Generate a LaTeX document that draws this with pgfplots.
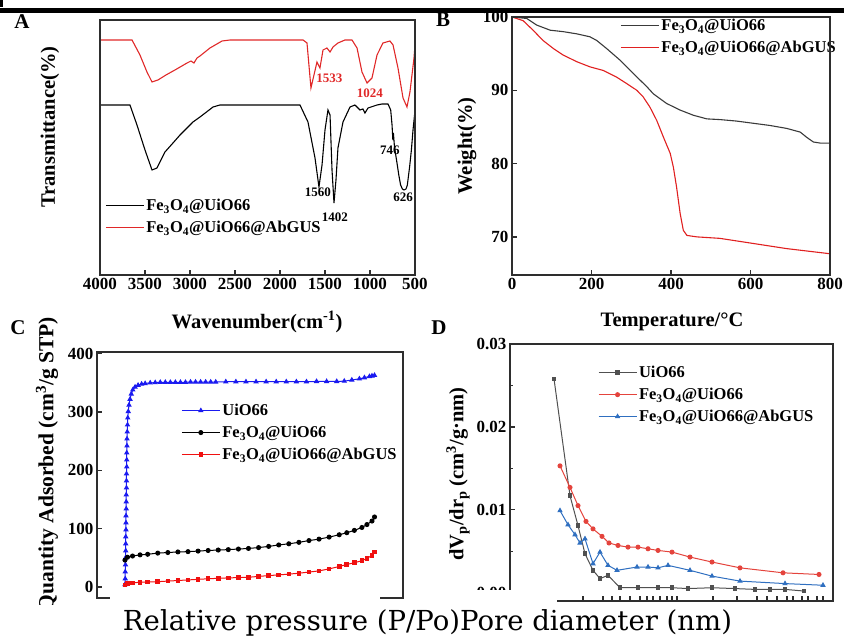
\documentclass[border=0pt]{standalone}
\usepackage{fontspec}
\setmainfont{Liberation Serif}
\newfontfamily\capfont{DejaVu Serif}
\usepackage{pgfplots}
\pgfplotsset{compat=1.18}

\definecolor{irred}{HTML}{E02828}
\definecolor{tgagray}{HTML}{3A3A3A}
\definecolor{tgared}{HTML}{E02020}
\definecolor{betblue}{HTML}{1A1AF0}
\definecolor{betred}{HTML}{F01010}
\definecolor{psdgray}{HTML}{505050}
\definecolor{psdred}{HTML}{E4433C}
\definecolor{psdblue}{HTML}{2F6FC0}
\definecolor{boxgray}{HTML}{2E2E2E}

\newcommand{\fe}{Fe\textsubscript{3}O\textsubscript{4}}
\newcommand{\ticfont}{\bfseries\fontsize{17}{17}\selectfont}
\newcommand{\labfont}{\bfseries\fontsize{20.5}{21}\selectfont}
\newcommand{\legfont}{\bfseries\fontsize{16.5}{17}\selectfont}

\pgfplotsset{
  panel/.style={
    scale only axis, anchor=south west,
    axis line style={line width=1.6pt, boxgray},
    major tick style={line width=1.3pt, boxgray},
    minor tick style={line width=1.1pt, boxgray},
    major tick length=5pt, minor tick length=3pt,
    tick align=inside, xtick pos=bottom, ytick pos=left,
    tick label style={font=\ticfont},
    /pgf/number format/assume math mode=true,
    /pgf/number format/1000 sep={},
    legend style={draw=none, fill=none, font=\legfont, inner sep=0pt,
      row sep=5pt, cells={anchor=west}},
    legend cell align=left,
  },
  lineleg/.style={legend image code/.code={\draw[##1] (0pt,0pt) -- (38pt,0pt);}},
  markleg/.style={legend image code/.code={%
    \draw[##1, mark repeat=2, mark phase=2] plot coordinates {(0pt,0pt) (19pt,0pt) (38pt,0pt)};}},
}

\begin{document}
\begin{tikzpicture}
\path[use as bounding box] (0pt,0pt) rectangle (844pt,641pt);
% bar along the top
\fill[black] (0pt,628pt) rectangle (844pt,633pt);
\fill[black] (0pt,634pt) rectangle (3pt,641pt);

%% ---------------- A: FTIR ----------------
\begin{axis}[panel, lineleg, name=ftir, at={(100pt,366pt)}, width=315pt, height=255pt,
  xmin=500, xmax=4000, x dir=reverse, xtick={500,1000,...,4000},
  ymin=0, ymax=255, ytick=\empty,
  legend style={at={(0.016,0.306)}, anchor=north west}]
\addplot[black, line width=1.1pt] coordinates {
(4000,170) (3667,170) (3589,150) (3500,125) (3422,105) (3367,107) (3278,123)
(3189,132) (3111,140) (3033,147) (2967,153) (2889,158) (2744,168) (2667,170)
(1778,170) (1689,153) (1611,117) (1567,88) (1533,110) (1500,145) (1467,165)
(1444,160) (1422,105) (1400,72) (1378,95) (1356,127) (1300,153) (1222,168)
(1167,170) (1111,165) (1078,166) (1056,162) (1022,167) (922,170) (867,171)
(800,171) (770,165) (755,150) (746,135) (740,142) (728,128) (700,112)
(680,100) (660,90) (640,86) (622,85) (600,86) (585,90) (560,108) (540,125)
(522,145) (505,160) (500,163)};
\addlegendentry{\fe@UiO66}
\addplot[irred, line width=1.1pt] coordinates {
(4000,235) (3644,235) (3556,220) (3478,203) (3422,193) (3356,195) (3267,200)
(3167,205) (3033,212) (2989,214) (2956,212) (2922,217) (2889,219) (2778,227)
(2644,234) (2556,235) (1744,235) (1700,232) (1656,187) (1589,213) (1556,207)
(1522,225) (1478,227) (1444,223) (1411,228) (1356,232) (1278,235) (1200,235)
(1144,227) (1089,203) (1033,192) (978,197) (922,220) (856,232) (778,234)
(744,230) (689,207) (633,177) (589,168) (556,183) (511,217) (500,230)};
\addlegendentry{\fe@UiO66@AbGUS}
\node[font=\bfseries\fontsize{13}{13}\selectfont] at (axis cs:1578,83) {1560};
\node[font=\bfseries\fontsize{13}{13}\selectfont] at (axis cs:1389,58) {1402};
\node[font=\bfseries\fontsize{13}{13}\selectfont] at (axis cs:780,125) {746};
\node[font=\bfseries\fontsize{13}{13}\selectfont] at (axis cs:633,78) {626};
\node[font=\bfseries\fontsize{13}{13}\selectfont, irred] at (axis cs:1450,197) {1533};
\node[font=\bfseries\fontsize{13}{13}\selectfont, irred] at (axis cs:1000,182) {1024};
\end{axis}

%% ---------------- B: TGA ----------------
\begin{axis}[panel, lineleg, name=tga, at={(512pt,366pt)}, width=318pt, height=258pt,
  xmin=0, xmax=800, xtick={0,200,...,800},
  ymin=64.8, ymax=100, ytick={70,80,90,100},
  legend style={at={(0.34,1.0)}, anchor=north west}]
\addplot[tgagray, line width=1.1pt] coordinates {
(0,100) (37,99.8) (62,98.9) (96,98.2) (129,98) (163,97.7) (196,97.3) (213,96.8)
(238,95.7) (272,94.1) (305,92.3) (339,90.5) (356,89.5) (389,88.2) (423,87.3)
(456,86.6) (490,86.1) (524,86) (565,85.8) (607,85.5) (649,85.2) (691,84.8)
(725,84.3) (741,83.6) (758,82.95) (775,82.8) (800,82.8)};
\addlegendentry{\fe@UiO66}
\addplot[tgared, line width=1.1pt] coordinates {
(0,100) (28,99.5) (53,98.2) (78,96.8) (104,95.7) (129,94.8) (163,93.9) (196,93.2)
(230,92.7) (263,91.8) (289,90.9) (314,90) (330,89.1) (347,87.7) (364,85.9)
(381,83.6) (398,81.4) (406,79.5) (414,76.8) (423,73.2) (431,70.9) (440,70.2)
(465,70) (523,69.8) (607,69.1) (691,68.4) (800,67.7)};
\addlegendentry{\fe@UiO66@AbGUS}
\end{axis}

%% ---------------- C: N2 isotherms ----------------
\begin{axis}[panel, markleg, name=bet, at={(97pt,43pt)}, width=306pt, height=246pt,
  xmin=-0.111, xmax=1.103, xtick=\empty,
  ymin=-19, ymax=403, ytick={0,100,...,400},
  legend style={at={(0.275,0.797)}, anchor=north west}]
\addplot[betblue, line width=1pt, mark=triangle*, mark size=2.2pt] coordinates {
(0.000,4) (0.001,14) (0.001,26) (0.002,38) (0.002,50) (0.003,62) (0.003,74)
(0.003,86) (0.004,98) (0.004,110) (0.004,122) (0.005,134) (0.005,146)
(0.005,158) (0.006,170) (0.006,182) (0.006,194) (0.007,206) (0.007,218)
(0.007,230) (0.008,242) (0.008,254) (0.009,266) (0.010,278) (0.011,290)
(0.013,301) (0.016,312) (0.020,322) (0.025,331) (0.031,338) (0.040,343)
(0.052,346) (0.066,348) (0.08,349) (0.10,350) (0.12,350.5) (0.14,351)
(0.16,351) (0.18,351) (0.20,351) (0.22,351) (0.24,351) (0.26,351.5)
(0.28,351.5) (0.30,351.5) (0.32,351.5) (0.34,351.5) (0.36,351.5) (0.40,352)
(0.44,352) (0.48,352) (0.52,352) (0.56,352) (0.60,352) (0.64,352) (0.68,352)
(0.72,352) (0.76,352.5) (0.80,352.5) (0.84,352.5) (0.87,353) (0.90,355)
(0.93,357) (0.95,359) (0.97,361) (0.98,362) (0.99,363)};
\addlegendentry{UiO66}
\addplot[black, line width=1pt, mark=*, mark size=2pt] coordinates {
(0.000,46) (0.01,51) (0.03,53) (0.06,55) (0.09,56) (0.13,58) (0.17,59)
(0.21,60) (0.25,60.5) (0.29,61.5) (0.33,62.5) (0.37,63.3) (0.41,64) (0.45,65)
(0.49,66) (0.53,67.5) (0.57,69.5) (0.61,72) (0.65,74) (0.69,76.5) (0.73,79.5)
(0.77,82) (0.81,85.5) (0.85,89.5) (0.88,93) (0.91,97) (0.94,102) (0.96,107)
(0.98,113) (0.99,120)};
\addlegendentry{\fe@UiO66}
\addplot[betred, line width=1pt, mark=square*, mark size=1.8pt] coordinates {
(0.000,3.5) (0.01,6) (0.03,7) (0.06,8) (0.09,8.5) (0.13,9) (0.17,10) (0.21,11)
(0.25,12) (0.29,13) (0.33,14) (0.37,14.8) (0.41,15.5) (0.45,16) (0.49,16.6)
(0.53,18) (0.57,19.5) (0.61,20.6) (0.65,22) (0.69,23.5) (0.73,25.5)
(0.77,27.5) (0.81,31) (0.85,35) (0.88,38.5) (0.91,41.5) (0.94,45) (0.96,49)
(0.98,54) (0.99,60)};
\addlegendentry{\fe@UiO66@AbGUS}
\end{axis}

%% ---------------- D: pore size distribution (y in units of 0.001) ----------------
\begin{axis}[panel, markleg, name=psd, at={(510pt,40pt)}, width=323pt, height=257pt,
  xmin=0, xmax=323,
  xtick={73,93,102,110,120,130,137,143,150,157,162,167,203,227,247,257,267,277,283,292,298,307,313},
  xticklabels={},
  ymin=-1, ymax=30, ytick={0,10,20,30}, minor y tick num=1,
  yticklabels={0.00,0.01,0.02,0.03},
  legend style={at={(0.272,0.922)}, anchor=north west}]
\addplot[psdgray, line width=1pt, mark=square*, mark size=1.8pt] coordinates {
(44,25.8) (60,11.7) (68,8.1) (75,4.7) (83,2.7) (90,1.7)
(98,2.1) (110,0.6) (128,0.6) (148,0.6) (162,0.6) (178,0.5)
(202,0.6) (225,0.5) (245,0.4) (260,0.4) (275,0.4) (294,0.2)};
\addlegendentry{UiO66}
\addplot[psdred, line width=1pt, mark=*, mark size=2pt] coordinates {
(50,15.3) (60,12.7) (68,10.5) (76,8.6) (83,7.7) (92,6.8)
(99,6.0) (108,5.7) (118,5.5) (128,5.5) (138,5.3) (148,5.1)
(162,4.9) (180,4.3) (202,3.7) (230,3.0) (273,2.4) (309,2.2)};
\addlegendentry{\fe@UiO66}
\addplot[psdblue, line width=1pt, mark=triangle*, mark size=2.2pt] coordinates {
(50,9.9) (58,8.2) (65,7.0) (70,6.0) (75,6.5) (83,3.5)
(90,4.9) (98,3.3) (107,2.7) (127,3.1) (138,3.1) (148,3.0)
(158,3.3) (180,2.7) (202,2.0) (230,1.4) (275,1.1) (313,0.9)};
\addlegendentry{\fe@UiO66@AbGUS}
\end{axis}

%% frame of C (its bottom is partly hidden by the caption strip)
\draw[boxgray, line width=1.6pt] (bet.south west) rectangle (bet.north east);

%% axis titles and panel letters
\node[font=\labfont] at (257pt,319pt) {Wavenumber(cm\textsuperscript{-1})};
\node[font=\labfont, rotate=90] at (50pt,514pt) {Transmittance(\%)};
\node[font=\labfont] at (672pt,319pt) {Temperature/°C};
\node[font=\labfont, rotate=90] at (467pt,495pt) {Weight(\%)};
\node[font=\bfseries\fontsize{21.5}{22}\selectfont, rotate=90] at (47pt,177pt) {Quantity Adsorbed (cm\textsuperscript{3}/g STP)};
\node[font=\labfont, rotate=90] at (458pt,167pt) {dV\textsubscript{p}/dr\textsubscript{p} (cm\textsuperscript{3}/g·nm)};
\node[font=\bfseries\fontsize{21}{21}\selectfont] at (22pt,619pt) {A};
\node[font=\bfseries\fontsize{21}{21}\selectfont] at (443pt,621pt) {B};
\node[font=\bfseries\fontsize{21}{21}\selectfont] at (18pt,313pt) {C};
\node[font=\bfseries\fontsize{21}{21}\selectfont] at (439pt,313pt) {D};

%% caption strip laid over the cut charts
\fill[white] (110pt,0pt) rectangle (380pt,48pt);
\fill[white] (457pt,0pt) rectangle (557pt,51pt);
\fill[white] (0pt,0pt) rectangle (844pt,36pt);
\node[anchor=base, inner sep=0pt] at (427.5pt,11pt)
  {\resizebox{609pt}{!}{\capfont\fontsize{27}{27}\selectfont Relative pressure (P/Po)Pore diameter (nm)}};

%% frames of A, B and D, drawn last
\draw[boxgray, line width=1.6pt] (ftir.south west) rectangle (ftir.north east);
\draw[boxgray, line width=1.6pt] (tga.south west) rectangle (tga.north east);
\draw[boxgray, line width=1.6pt] (557pt,40pt) -- (833pt,40pt) -- (833pt,297pt)
  -- (510pt,297pt) -- (510pt,51pt);
\end{tikzpicture}
\end{document}
